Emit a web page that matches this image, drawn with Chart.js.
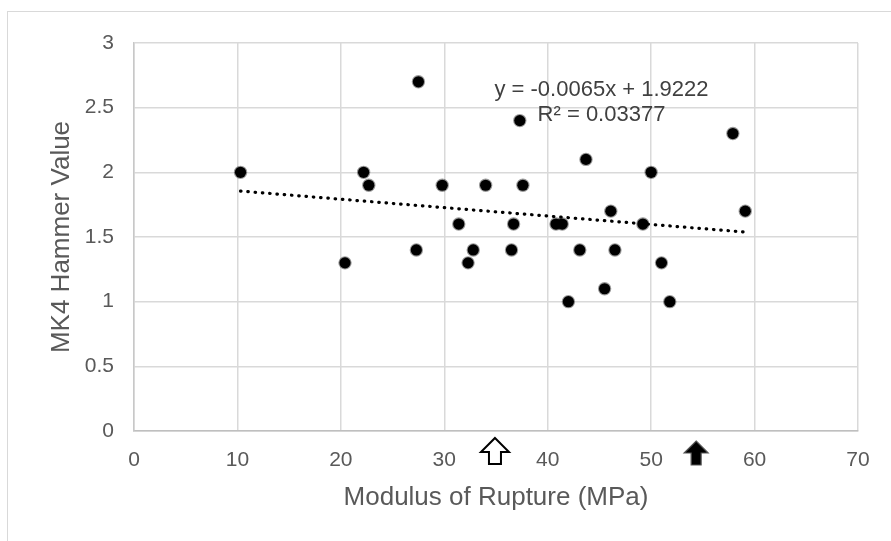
<!DOCTYPE html>
<html>
<head>
<meta charset="utf-8">
<script src="https://cdn.jsdelivr.net/npm/chart.js@4"></script>
<style>
  html, body { margin: 0; padding: 0; background: #fff; }
  #wrap { position: relative; width: 891px; height: 541px; overflow: hidden; }
  #frame { position: absolute; left: 7px; top: 11px; width: 1000px; height: 1000px; border: 1px solid #d9d9d9; }
  #chart { position: absolute; left: 0; top: 0; }
</style>
</head>
<body>
<div id="wrap">
  <div id="frame"></div>
  <canvas id="chart" width="891" height="541"></canvas>
</div>
<script>
// ── Data ──────────────────────────────────────────────
const rupture = [10.3, 20.4, 22.2, 22.7, 27.3, 27.5, 29.8, 31.4, 32.3, 32.8, 34.0, 36.5, 36.7, 37.3, 37.6,
                 40.8, 41.4, 42.0, 43.1, 43.7, 45.5, 46.1, 46.5, 49.2, 50.0, 51.0, 51.8, 57.9, 59.1];
const hammer  = [2.0, 1.3, 2.0, 1.9, 1.4, 2.7, 1.9, 1.6, 1.3, 1.4, 1.9, 1.4, 1.6, 2.4, 1.9,
                 1.6, 1.6, 1.0, 1.4, 2.1, 1.1, 1.7, 1.4, 1.6, 2.0, 1.3, 1.0, 2.3, 1.7];
const trendX = [10.3, 59.1];
const trendY = [1.855, 1.538];
const eqLines = ['y = -0.0065x + 1.9222', 'R² = 0.03377'];
const eqAt = [45.2, 2.59];
const arrowAt = [34.9, 54.35];
const xTicks = [0, 10, 20, 30, 40, 50, 60, 70];
const yTicks = [0, 0.5, 1, 1.5, 2, 2.5, 3];
const xTitle = 'Modulus of Rupture (MPa)';
const yTitle = 'MK4 Hammer Value';

const FONT = '"Liberation Sans", Arial, sans-serif';

// open / filled arrow styles
const arrowStyles = [
    { fill: '#ffffff', stroke: '#000000', lw: 2, top: 7, w: 28, h: 26, head: 14, shaft: 12 },
    { fill: '#000000', stroke: '#555555', lw: 1.2, top: 10, w: 24, h: 24, head: 12, shaft: 10 },
];

function drawArrow(ctx, cx, top, s) {
    const hw = s.w / 2, sw = s.shaft / 2;
    ctx.beginPath();
    ctx.moveTo(cx, top);
    ctx.lineTo(cx + hw, top + s.head);
    ctx.lineTo(cx + sw, top + s.head);
    ctx.lineTo(cx + sw, top + s.h);
    ctx.lineTo(cx - sw, top + s.h);
    ctx.lineTo(cx - sw, top + s.head);
    ctx.lineTo(cx - hw, top + s.head);
    ctx.closePath();
    ctx.fillStyle = s.fill;
    ctx.fill();
    ctx.lineWidth = s.lw;
    ctx.strokeStyle = s.stroke;
    ctx.lineJoin = 'miter';
    ctx.stroke();
}

const extras = {
    id: 'extras',
    afterDatasetsDraw(chart) {
        const { ctx, scales: { x, y } } = chart;
        ctx.save();
        // trendline equation
        ctx.font = '22px ' + FONT;
        ctx.fillStyle = '#404040';
        ctx.textAlign = 'center';
        ctx.textBaseline = 'alphabetic';
        const ex = x.getPixelForValue(eqAt[0]);
        const ey = y.getPixelForValue(eqAt[1]);
        eqLines.forEach((t, i) => ctx.fillText(t, ex, ey + i * 25));
        // arrows under the x axis
        arrowAt.forEach((v, i) => drawArrow(ctx, x.getPixelForValue(v), y.bottom + arrowStyles[i].top, arrowStyles[i]));
        ctx.restore();
    }
};

new Chart(document.getElementById('chart'), {
    type: 'scatter',
    data: {
        datasets: [
            {
                label: 'MK4',
                data: rupture.map((v, i) => ({ x: v, y: hammer[i] })),
                backgroundColor: '#000000',
                borderColor: 'rgba(0,0,0,0.4)',
                borderWidth: 2.2,
                pointRadius: 5.6,
                order: 0,
            },
            {
                label: 'Trend',
                data: trendX.map((v, i) => ({ x: v, y: trendY[i] })),
                showLine: true,
                pointRadius: 0,
                borderColor: '#000000',
                borderWidth: 3.2,
                borderDash: [0.5, 6.8],
                borderCapStyle: 'round',
                order: 1,
            },
        ]
    },
    options: {
        responsive: false,
        animation: false,
        layout: { padding: { top: 43, right: 33, left: 0, bottom: 0 } },
        plugins: { legend: { display: false }, tooltip: { enabled: false } },
        scales: {
            x: {
                type: 'linear', min: 0, max: 70,
                afterBuildTicks: s => { s.ticks = xTicks.map(v => ({ value: v })); },
                afterFit: s => { s.height = 110; },
                ticks: { color: '#595959', font: { family: FONT, size: 21 }, padding: 17 },
                grid: { color: '#d9d9d9', lineWidth: 1.5, drawTicks: false },
                border: { color: '#bfbfbf', width: 1.5 },
                title: { display: true, text: xTitle, color: '#595959', font: { family: FONT, size: 26 }, padding: { top: 0, bottom: 28 } },
            },
            y: {
                type: 'linear', min: 0, max: 3,
                afterBuildTicks: s => { s.ticks = yTicks.map(v => ({ value: v })); },
                afterFit: s => { s.width = 134; },
                ticks: { color: '#595959', font: { family: FONT, size: 21 }, padding: 20, callback: v => String(v) },
                grid: { color: '#d9d9d9', lineWidth: 1.5, drawTicks: false },
                border: { color: '#c8c8c8', width: 1.5 },
                title: { display: true, text: yTitle, color: '#595959', font: { family: FONT, size: 26 }, padding: { top: 46, bottom: 0 } },
            }
        }
    },
    plugins: [extras]
});
</script>
</body>
</html>
